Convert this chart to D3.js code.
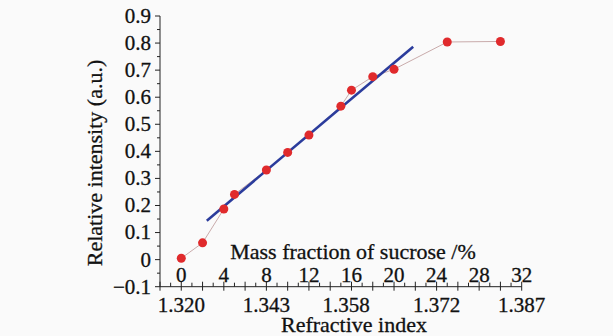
<!DOCTYPE html>
<html><head><meta charset="utf-8">
<script src="https://cdn.jsdelivr.net/npm/d3@7"></script>
<style>
html,body{margin:0;padding:0;background:#fafafa;}
svg{display:block;}
</style></head>
<body>
<svg id="c" width="613" height="336"></svg>
<script>
// Data
const massFraction = [0, 2, 4, 5, 8, 10, 12, 15, 16, 18, 20, 25, 30];
const intensity = [0.005, 0.062, 0.187, 0.241, 0.331, 0.396, 0.460, 0.567, 0.626, 0.676, 0.703, 0.804, 0.806];
const fitX = [2.4, 21.8];
const fitY = [0.144, 0.786];
const yTicks = [-0.1, 0, 0.1, 0.2, 0.3, 0.4, 0.5, 0.6, 0.7, 0.8, 0.9];
const massTicks = [0, 4, 8, 12, 16, 20, 24, 28, 32];
const riTickPos = [0, 8, 15.5, 24, 32];
const riTickLabels = ["1.320", "1.343", "1.358", "1.372", "1.387"];

const FONT = "Liberation Serif";
const svg = d3.select("#c");
const x = d3.scaleLinear().domain([-2, 32]).range([160, 521.7]);
const y = d3.scaleLinear().domain([-0.1, 0.9]).range([286.7, 16]);
const axisColor = "#222";
const txt = (sel) => sel.attr("font-family", FONT).attr("fill", "#111")
  .attr("stroke", "#111").attr("stroke-width", 0.3);

// Y axis
const gy = svg.append("g").attr("transform", `translate(${x(-2)},0)`);
gy.append("line").attr("x1",0).attr("x2",0).attr("y1",y(-0.1)).attr("y2",y(0.9)).attr("stroke",axisColor).attr("stroke-width",1);
const yMinor = d3.range(-0.05, 0.9, 0.1);
gy.selectAll("line.maj").data(yTicks).enter().append("line")
  .attr("x1",-5).attr("x2",0).attr("y1",d=>y(d)).attr("y2",d=>y(d)).attr("stroke",axisColor);
gy.selectAll("line.min").data(yMinor).enter().append("line")
  .attr("x1",-3).attr("x2",0).attr("y1",d=>y(d)).attr("y2",d=>y(d)).attr("stroke",axisColor);
gy.selectAll("text").data(yTicks).enter().append("text").call(txt)
  .attr("x",-9).attr("y",d=>y(d)).attr("dy","0.33em").attr("text-anchor","end")
  .attr("font-size","21px")
  .text(d=> d===0 ? "0" : (d<0 ? "\u2212" + Math.abs(d).toFixed(1) : d.toFixed(1)));

// Bottom axis
const ay = y(-0.1);
const gx = svg.append("g");
gx.append("line").attr("x1",x(-2)).attr("x2",x(32)).attr("y1",ay).attr("y2",ay).attr("stroke",axisColor);
const xMaj = d3.range(-2, 33, 2);
const xMin = d3.range(-1, 32, 2);
gx.selectAll("line.maj").data(xMaj).enter().append("line")
  .attr("x1",d=>x(d)).attr("x2",d=>x(d)).attr("y1",ay-5).attr("y2",ay+4).attr("stroke",axisColor);
gx.selectAll("line.min").data(xMin).enter().append("line")
  .attr("x1",d=>x(d)).attr("x2",d=>x(d)).attr("y1",ay-4).attr("y2",ay).attr("stroke",axisColor);
gx.selectAll("text.ri").data(riTickPos).enter().append("text").call(txt)
  .attr("x",d=>x(d)).attr("y",ay+25).attr("text-anchor","middle").attr("font-size","21px")
  .text((d,i)=>riTickLabels[i]);
gx.selectAll("text.mf").data(massTicks).enter().append("text").call(txt)
  .attr("x",d=>x(d)).attr("y",282).attr("text-anchor","middle").attr("font-size","21px")
  .text(d=>d);

// Titles
svg.append("text").call(txt).attr("x",354).attr("y",332).attr("text-anchor","middle").attr("font-size","22px").text("Refractive index");
svg.append("text").call(txt).attr("x",353).attr("y",259).attr("text-anchor","middle").attr("font-size","22px").text("Mass fraction of sucrose /%");
svg.append("text").call(txt).attr("transform","translate(102,163) rotate(-90)").attr("text-anchor","middle").attr("font-size","22px").text("Relative intensity (a.u.)");

// Connecting line
const pts = massFraction.map((m,i)=>[m, intensity[i]]);
svg.append("path").datum(pts)
  .attr("d", d3.line().x(d=>x(d[0])).y(d=>y(d[1])))
  .attr("fill","none").attr("stroke","#c9abab").attr("stroke-width",1);

// Fit line
svg.append("path").datum(fitX.map((m,i)=>[m, fitY[i]]))
  .attr("d", d3.line().x(d=>x(d[0])).y(d=>y(d[1])))
  .attr("fill","none").attr("stroke","#2b3c9c").attr("stroke-width",2.6);

// Points
svg.selectAll("circle").data(pts).enter().append("circle")
  .attr("cx",d=>x(d[0])).attr("cy",d=>y(d[1])).attr("r",4.5).attr("fill","#e02a2c");
</script>
</body></html>
